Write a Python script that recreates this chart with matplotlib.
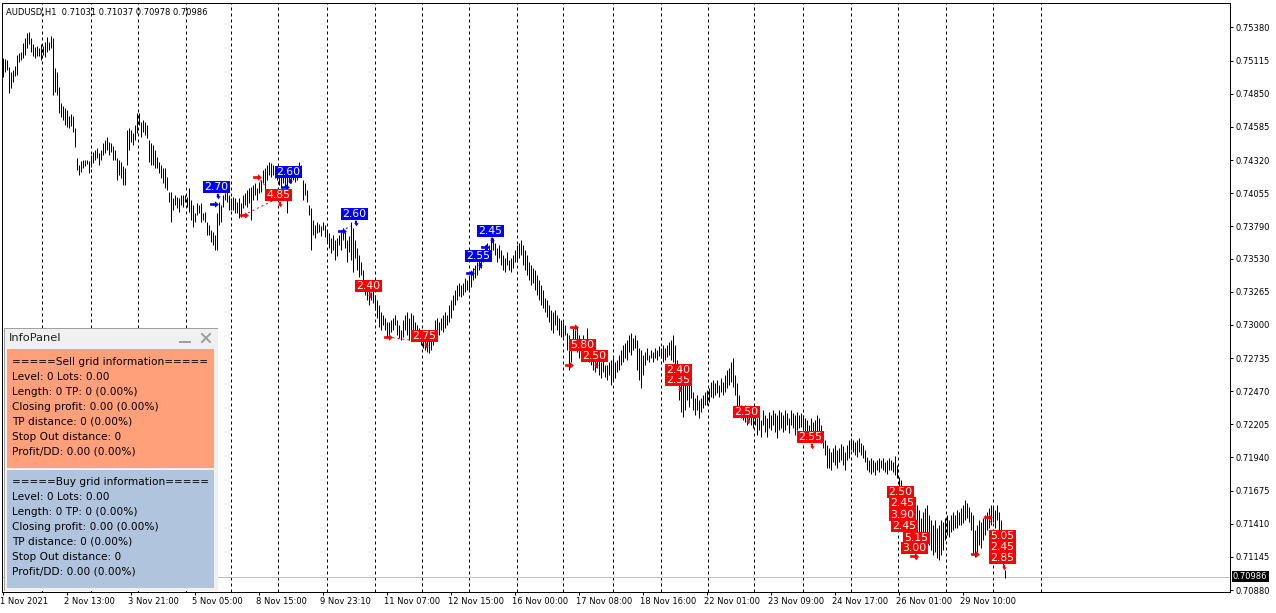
import numpy as np
import matplotlib.pyplot as plt
from matplotlib.path import Path
from matplotlib.patches import Rectangle
from matplotlib.transforms import ScaledTranslation

plt.rcParams['font.family'] = ['DejaVu Sans']

W, H = 1276, 613
PX = 72 / 100  # one pixel in points

symbol = 'AUDUSD,H1'
last_ohlc = ['0.71031', '0.71037', '0.70978', '0.70986']
last_price = 0.70986

# H1 bars, high / low in points (1e-5), 1 Nov - 30 Nov 2021
bar_high = [
    # 1 Nov
    75136, 75128, 75120, 75064, 75024, 75040, 75072, 75160, 75176, 75184, 75256, 75296,
    75336, 75344, 75296, 75248, 75224, 75232, 75216, 75248,
    # 2 Nov
    75232, 75264, 75304, 75264, 75312, 75296, 75056, 75024, 74904, 74776, 74752, 74736,
    74720, 74672, 74688, 74672, 74576, 74336, 74280, 74312, 74320, 74320, 74320, 74312,
    # 3 Nov
    74360, 74384, 74400, 74416, 74376, 74400, 74456, 74480, 74504, 74464, 74456, 74432,
    74400, 74336, 74320, 74304, 74272, 74256, 74560, 74576, 74560, 74536, 74600, 74696,
    # 4 Nov
    74696, 74624, 74640, 74624, 74600, 74480, 74456, 74440, 74400, 74344, 74304, 74280,
    74256, 74256, 74184, 74064, 74064, 74016, 74040, 74024, 74016, 74040, 74040, 74040,
    # 5 Nov
    74024, 74096, 74000, 73960, 73896, 73976, 73960, 73976, 73896, 73904, 73824, 73800,
    73760, 73744, 73720, 73896, 73984, 73960, 74040, 74056, 74064, 74040, 74016, 74024,
    # 8 Nov
    74016, 73984, 74016, 73976, 74040, 74056, 74080, 74096, 74104, 74120, 74136, 74096,
    74144, 74160, 74240, 74256, 74280, 74304, 74296, 74280, 74264, 74264,
    # 9 Nov
    74224, 74200, 74240, 74224, 74216, 74224, 74208, 74240, 74224, 74256, 74304, 74280,
    74160, 74136, 74080, 73960, 73936, 73840, 73800, 73824, 73808, 73792, 73824, 73800,
    # 10 Nov
    73760, 73736, 73696, 73720, 73680, 73696, 73720, 73744, 73776, 73744, 73680, 73712,
    73824, 73776, 73680, 73616, 73560, 73504, 73440, 73360, 73304, 73280, 73264, 73296,
    # 11 Nov
    73240, 73200, 73160, 73104, 73080, 73056, 73024, 73024, 73040, 73056, 73080, 73040,
    73000, 72960, 73040, 73080, 73104, 73056, 73096, 73080, 73024, 73000, 72976,
    # 12 Nov
    72936, 72920, 72920, 72896, 72920, 72944, 72960, 73040, 73056, 73024, 73056, 73080,
    73104, 73080, 73160, 73200, 73240, 73280, 73320, 73336, 73320, 73336, 73376, 73360,
    # 15 Nov
    73400, 73424, 73456, 73480, 73504, 73536, 73560, 73600, 73640, 73656, 73640, 73680,
    73696, 73656, 73616, 73640, 73600, 73560, 73536, 73584, 73520, 73536, 73560, 73600,
    # 16 Nov
    73640, 73656, 73680, 73640, 73600, 73560, 73504, 73480, 73456, 73440, 73400, 73360,
    73320, 73280, 73216, 73200, 73160, 73120, 73104, 73120, 73080, 73056, 73040,
    # 17 Nov
    73024, 73000, 72936, 72920, 72880, 72976, 72960, 72984, 72920, 72840, 72920, 72880,
    72976, 72840, 72784, 72760, 72736, 72760, 72720, 72704, 72720, 72680, 72680, 72704,
    # 18 Nov
    72720, 72736, 72704, 72720, 72760, 72800, 72840, 72856, 72880, 72920, 72936, 72896,
    72920, 72880, 72816, 72800, 72760, 72784, 72816, 72760, 72800, 72784, 72816, 72800, 72832,
    # 19 Nov
    72816, 72840, 72816, 72840, 72864, 72880, 72920, 72840, 72720, 72640, 72576, 72560,
    72544, 72576, 72520, 72560, 72464, 72416, 72440, 72400, 72416, 72440, 72464,
    # 22 Nov
    72480, 72496, 72544, 72560, 72536, 72560, 72520, 72576, 72544, 72600, 72640, 72656,
    72704, 72736, 72600, 72536, 72440, 72360, 72336, 72360, 72320, 72336, 72304,
    # 23 Nov
    72280, 72320, 72256, 72304, 72240, 72320, 72280, 72256, 72304, 72280, 72320, 72296,
    72280, 72320, 72304, 72280, 72320, 72296, 72256, 72320, 72296, 72280, 72304, 72280, 72296,
    # 24 Nov
    72280, 72256, 72240, 72200, 72256, 72224, 72240, 72280, 72256, 72200, 72144, 72080,
    72040, 72016, 71984, 72016, 72040, 72000, 72016, 72048, 72032, 71984, 72040, 72080,
    # 25 Nov
    72096, 72080, 72064, 72080, 72096, 72056, 72040, 72000, 71944, 71920, 71936, 71920,
    71904, 71920, 71936, 71920, 71936, 71904, 71920, 71936, 71920, 71904, 71952, 71880,
    # 26 Nov
    71784, 71760, 71696, 71664, 71616, 71560, 71520, 71504, 71536, 71560, 71520, 71456,
    71504, 71536, 71560, 71480, 71440, 71400, 71440, 71376, 71400, 71440, 71424,
    # 29 Nov
    71456, 71480, 71440, 71480, 71504, 71480, 71520, 71504, 71536, 71560, 71600, 71576,
    71544, 71504, 71480, 71360, 71400, 71440, 71424, 71456, 71480, 71504, 71536, 71560,
    # 30 Nov
    71544, 71520, 71560, 71504, 71440, 71280, 71037,
]
bar_low = [
    74984, 75024, 75040, 74856, 74896, 74944, 74992, 75000, 75104, 75120, 75136, 75160,
    75216, 75248, 75184, 75152, 75136, 75152, 75152, 75120,
    75160, 75144, 75184, 75200, 75216, 74840, 74864, 74840, 74696, 74664, 74640, 74600,
    74584, 74576, 74592, 74544, 74424, 74240, 74200, 74224, 74256, 74272, 74288, 74216,
    74264, 74296, 74320, 74336, 74280, 74320, 74360, 74376, 74400, 74360, 74384, 74320,
    74320, 74160, 74200, 74176, 74120, 74120, 74280, 74400, 74464, 74440, 74480, 74536,
    74600, 74504, 74544, 74520, 74496, 74304, 74280, 74280, 74256, 74256, 74216, 74176,
    74136, 74096, 74080, 73984, 73824, 73920, 73960, 73936, 73904, 73960, 73944, 73984,
    73944, 73904, 73840, 73784, 73824, 73880, 73896, 73824, 73840, 73824, 73720, 73720,
    73664, 73640, 73600, 73600, 73800, 73824, 73944, 74000, 73984, 73920, 73920, 73920,
    73896, 73896, 73856, 73864, 73936, 73960, 73944, 73976, 73840, 74000, 74040, 74000,
    74056, 74064, 74136, 74080, 74160, 74200, 74184, 74200, 74176, 74160,
    74120, 74096, 74136, 74112, 73896, 74144, 74136, 74160, 74144, 74160, 74184, 74192,
    74000, 74040, 73984, 73880, 73600, 73720, 73696, 73736, 73744, 73712, 73760, 73704,
    73664, 73616, 73576, 73600, 73520, 73552, 73640, 73600, 73680, 73616, 73504, 73584,
    73520, 73424, 73536, 73440, 73384, 73400, 73360, 73240, 73200, 73160, 73200, 73176,
    73120, 73056, 72984, 72960, 73000, 72960, 72896, 72920, 72944, 72960, 73000, 72920,
    72896, 72880, 72904, 72960, 72920, 72880, 72960, 72944, 72880, 72880, 72896,
    72840, 72816, 72800, 72784, 72776, 72800, 72840, 72920, 72936, 72920, 72960, 72944,
    72976, 73000, 73024, 73056, 73120, 73160, 73200, 73232, 73224, 73240, 73264, 73280,
    73280, 73304, 73360, 73376, 73400, 73440, 73456, 73504, 73536, 73560, 73576, 73584,
    73600, 73560, 73504, 73536, 73480, 73440, 73424, 73480, 73440, 73424, 73456, 73504,
    73504, 73536, 73560, 73480, 73440, 73400, 73360, 73320, 73336, 73280, 73240, 73200,
    73160, 73136, 73104, 73064, 73024, 72960, 72936, 73000, 72960, 72920, 72904,
    72904, 72920, 72800, 72640, 72704, 72840, 72800, 72784, 72736, 72720, 72760, 72720,
    72800, 72704, 72680, 72640, 72624, 72656, 72600, 72576, 72624, 72584, 72560, 72600,
    72520, 72560, 72576, 72624, 72640, 72680, 72704, 72736, 72720, 72784, 72760, 72800,
    72816, 72640, 72560, 72496, 72600, 72680, 72720, 72704, 72736, 72704, 72736, 72720, 72752,
    72736, 72704, 72720, 72744, 72760, 72720, 72704, 72640, 72520, 72400, 72304, 72264,
    72320, 72400, 72344, 72416, 72320, 72280, 72320, 72256, 72304, 72336, 72360,
    72360, 72384, 72424, 72416, 72440, 72456, 72424, 72464, 72440, 72464, 72496, 72520,
    72544, 72504, 72440, 72344, 72320, 72256, 72240, 72224, 72200, 72240, 72200,
    72176, 72200, 72120, 72160, 72104, 72200, 72144, 72104, 72176, 72160, 72200, 72144,
    72096, 72160, 72176, 72144, 72160, 72200, 72136, 72200, 72176, 72120, 72160, 72176, 72184,
    72160, 72136, 72120, 72096, 72144, 72080, 72112, 72080, 72144, 72056, 72016, 71960,
    71856, 71856, 71840, 71904, 71880, 71856, 71904, 71920, 71880, 71840, 71920, 71936,
    72000, 71984, 71960, 71944, 71984, 71960, 71936, 71904, 71840, 71824, 71808, 71824,
    71800, 71840, 71824, 71856, 71840, 71824, 71808, 71840, 71840, 71824, 71800, 71776,
    71664, 71640, 71560, 71480, 71456, 71400, 71360, 71280, 71320, 71376, 71240, 71216,
    71296, 71344, 71280, 71240, 71200, 71160, 71184, 71136, 71120, 71160, 71200,
    71280, 71320, 71304, 71344, 71360, 71376, 71376, 71400, 71400, 71416, 71440, 71456,
    71424, 71360, 71160, 71144, 71184, 71240, 71216, 71280, 71320, 71360, 71376, 71400,
    71424, 71376, 71440, 71360, 71240, 71080, 70978,
]

price_ticks = [0.75380, 0.75115, 0.74850, 0.74585, 0.74320, 0.74055, 0.73790, 0.73530, 0.73265,
               0.73000, 0.72735, 0.72470, 0.72205, 0.71940, 0.71675, 0.71410, 0.71145, 0.70880]

date_tick_bars = [0, 32, 64, 96, 128, 160, 192, 224, 256, 288, 320, 352, 384, 416, 448, 480]
date_labels = ['1 Nov 2021', '2 Nov 13:00', '3 Nov 21:00', '5 Nov 05:00', '8 Nov 15:00',
               '9 Nov 23:10', '11 Nov 07:00', '12 Nov 15:00', '16 Nov 00:00', '17 Nov 08:00',
               '18 Nov 16:00', '22 Nov 01:00', '23 Nov 09:00', '24 Nov 17:00', '26 Nov 01:00',
               '29 Nov 10:00']

# period separators (start of each day, bar index)
day_start_bars = [19.5, 44, 67.5, 91.5, 114, 137.5, 162, 186, 209.5, 233, 257, 280, 305,
                  329, 352.5, 375.5, 400, 424, 447.5, 471.5, 495, 519]

# grid tags: profit labels of closed grid levels
buy_tag_text = ['2.70', '2.60', '2.60', '2.55', '2.45']
buy_tag_bar = [101, 137, 170, 232, 238]
buy_tag_price = [0.74104, 0.74224, 0.73888, 0.73552, 0.73752]

sell_tag_text = ['4.85', '2.40', '2.75', '5.80', '2.50', '2.35', '2.40', '2.50', '2.55',
                 '2.50', '2.45', '3.90', '2.45', '5.15', '3.00', '2.45', '5.05', '2.85']
sell_tag_bar = [132, 177, 205, 284, 290, 332, 332, 366, 398,
                443, 444, 444, 445, 451, 450, 494, 494, 494]
sell_tag_price = [0.74040, 0.73312, 0.72912, 0.72840, 0.72752, 0.72560, 0.72640, 0.72304, 0.72104,
                  0.71664, 0.71576, 0.71480, 0.71392, 0.71296, 0.71216, 0.71224, 0.71312, 0.71136]

# entry arrows
sell_arrow_bar = [120.5, 127, 192.5, 285.5, 283, 455.5, 486, 492.5]
sell_arrow_price = [0.73880, 0.74184, 0.72904, 0.72984, 0.72680, 0.71152, 0.71168, 0.71464]
buy_arrow_bar = [105.5, 141, 169.5, 233.5, 241]
buy_arrow_price = [0.73968, 0.74104, 0.73752, 0.73416, 0.73624]

# dotted links entry -> exit
sell_link_bars = [(120.5, 136), (127, 131), (192.5, 211), (285.5, 288), (492.5, 495)]
sell_link_prices = [(0.73880, 0.74000), (0.74184, 0.74120), (0.72904, 0.72864),
                    (0.72984, 0.72936), (0.71464, 0.71408)]
buy_link_bars = [(169.5, 174), (233.5, 237)]
buy_link_prices = [(0.73752, 0.73792), (0.73416, 0.73456)]

sell_info = ['=====Sell grid information=====', 'Level: 0 Lots: 0.00', 'Length: 0 TP: 0 (0.00%)',
             'Closing profit: 0.00 (0.00%)', 'TP distance: 0 (0.00%)', 'Stop Out distance: 0',
             'Profit/DD: 0.00 (0.00%)']
buy_info = ['=====Buy grid information=====', 'Level: 0 Lots: 0.00', 'Length: 0 TP: 0 (0.00%)',
            'Closing profit: 0.00 (0.00%)', 'TP distance: 0 (0.00%)', 'Stop Out distance: 0',
            'Profit/DD: 0.00 (0.00%)']

RED = '#FF0000'
BLUE = '#0000FF'

high = np.array(bar_high) / 1e5
low = np.array(bar_low) / 1e5
idx = np.arange(len(high))

fig = plt.figure(figsize=(W / 100, H / 100), dpi=100)
fig.patch.set_facecolor('white')
ax = fig.add_axes([2 / W, (H - 592) / H, 1228 / W, 589 / H])
ax.set_xlim(-0.25, 613.75)
ax.set_ylim(0.70864, 0.75576)

# day separators
ax.vlines(day_start_bars, 0.70864, 0.75576, color='black', lw=PX, linestyles=(0, (3, 3)), zorder=1)
# current price line
ax.axhline(last_price, color='#C0C0C0', lw=PX, zorder=1)
# bars
ax.vlines(idx, low, high, color='black', lw=PX, zorder=2)

# dotted links
for (b0, b1), (p0, p1) in zip(sell_link_bars, sell_link_prices):
    ax.plot([b0, b1], [p0, p1], color=RED, lw=PX, ls=(0, (2, 3)), zorder=3)
for (b0, b1), (p0, p1) in zip(buy_link_bars, buy_link_prices):
    ax.plot([b0, b1], [p0, p1], color=BLUE, lw=PX, ls=(0, (2, 3)), zorder=3)

arrow = Path([(-1, 0.3), (0.1, 0.3), (0.1, 0.75), (1, 0), (0.1, -0.75), (0.1, -0.3), (-1, -0.3), (-1, 0.3)],
             [Path.MOVETO] + [Path.LINETO] * 6 + [Path.CLOSEPOLY])
ax.scatter(sell_arrow_bar, sell_arrow_price, marker=arrow, s=40, color=RED, linewidths=0, zorder=4)
ax.scatter(buy_arrow_bar, buy_arrow_price, marker=arrow, s=40, color=BLUE, linewidths=0, zorder=4)

# small exit marks just below each tag
exit_mark = Path([(-0.6, 1), (0.2, 1), (0.2, 0.1), (0.8, 0.1), (0, -1), (-0.8, 0.1), (-0.6, 0.1), (-0.6, 1)],
                 [Path.MOVETO] + [Path.LINETO] * 6 + [Path.CLOSEPOLY])
ax.scatter(np.array(buy_tag_bar) + 6.5, np.array(buy_tag_price) - 0.00070, marker=exit_mark,
           s=16, color=BLUE, linewidths=0, zorder=4)
ax.scatter(np.array(sell_tag_bar) + 6.5, np.array(sell_tag_price) - 0.00070, marker=exit_mark,
           s=16, color=RED, linewidths=0, zorder=4)


def tag(b, p, t, c):
    ax.text(b, p, t, color='white', fontsize=7.8, ha='left', va='center', zorder=5,
            bbox=dict(boxstyle='square,pad=0.1', fc=c, ec='none'))


for b, p, t in zip(buy_tag_bar, buy_tag_price, buy_tag_text):
    tag(b, p, t, BLUE)
for b, p, t in zip(sell_tag_bar, sell_tag_price, sell_tag_text):
    tag(b, p, t, RED)

# axes styling
for s in ax.spines.values():
    s.set_color('black')
    s.set_linewidth(PX)
ax.yaxis.tick_right()
ax.set_yticks(price_ticks)
ax.set_yticklabels(['%.5f' % v for v in price_ticks])
ax.set_xticks(date_tick_bars)
ax.set_xticklabels(date_labels)
ax.tick_params(axis='both', direction='out', length=3 * PX, width=PX, labelsize=6, colors='black')
ax.tick_params(axis='y', pad=1.5)
ax.tick_params(axis='x', pad=1.5)
shift = ScaledTranslation(-2.5 / 100, 0, fig.dpi_scale_trans)
for lbl in ax.get_xticklabels():
    lbl.set_horizontalalignment('left')
    lbl.set_transform(lbl.get_transform() + shift)

# header
ax.text(4 / 1228, 1 - 9 / 589, symbol + '  ' + ' '.join(last_ohlc), transform=ax.transAxes,
        fontsize=6, ha='left', va='center', color='black')

# current price box on price scale
ax.text(1 + 3 / 1228, last_price, '%.5f' % last_price, transform=ax.get_yaxis_transform(),
        fontsize=6, color='white', ha='left', va='center', zorder=6,
        bbox=dict(boxstyle='square,pad=0.15', fc='black', ec='none'), clip_on=False)

# info panel
pw, ph = 215, 264
pax = fig.add_axes([3 / W, (H - 591) / H, pw / W, ph / H])
pax.set_xlim(0, pw)
pax.set_ylim(ph, 0)
pax.axis('off')
pax.add_patch(Rectangle((0.5, 0.5), pw - 1, ph - 1, fc='#F0F0F0', ec='#A0A0A0', lw=PX))
pax.text(6, 11, 'InfoPanel', fontsize=8.2, ha='left', va='center', color='#202020')
pax.plot([177, 187], [15, 15], color='#A0A0A0', lw=2 * PX)
pax.plot([199, 207], [7, 15], color='#A0A0A0', lw=2 * PX)
pax.plot([199, 207], [15, 7], color='#A0A0A0', lw=2 * PX)
pax.add_patch(Rectangle((4, 22), 207, 119, fc='#FFA07A', ec='none'))
pax.add_patch(Rectangle((4, 143), 207, 118, fc='#B0C4DE', ec='none'))
for k, line in enumerate(sell_info):
    pax.text(9, 35 + 15 * k, line, fontsize=7.6, ha='left', va='center', color='black')
for k, line in enumerate(buy_info):
    pax.text(9, 155 + 15 * k, line, fontsize=7.6, ha='left', va='center', color='black')

fig.savefig('out.png', dpi=100)
